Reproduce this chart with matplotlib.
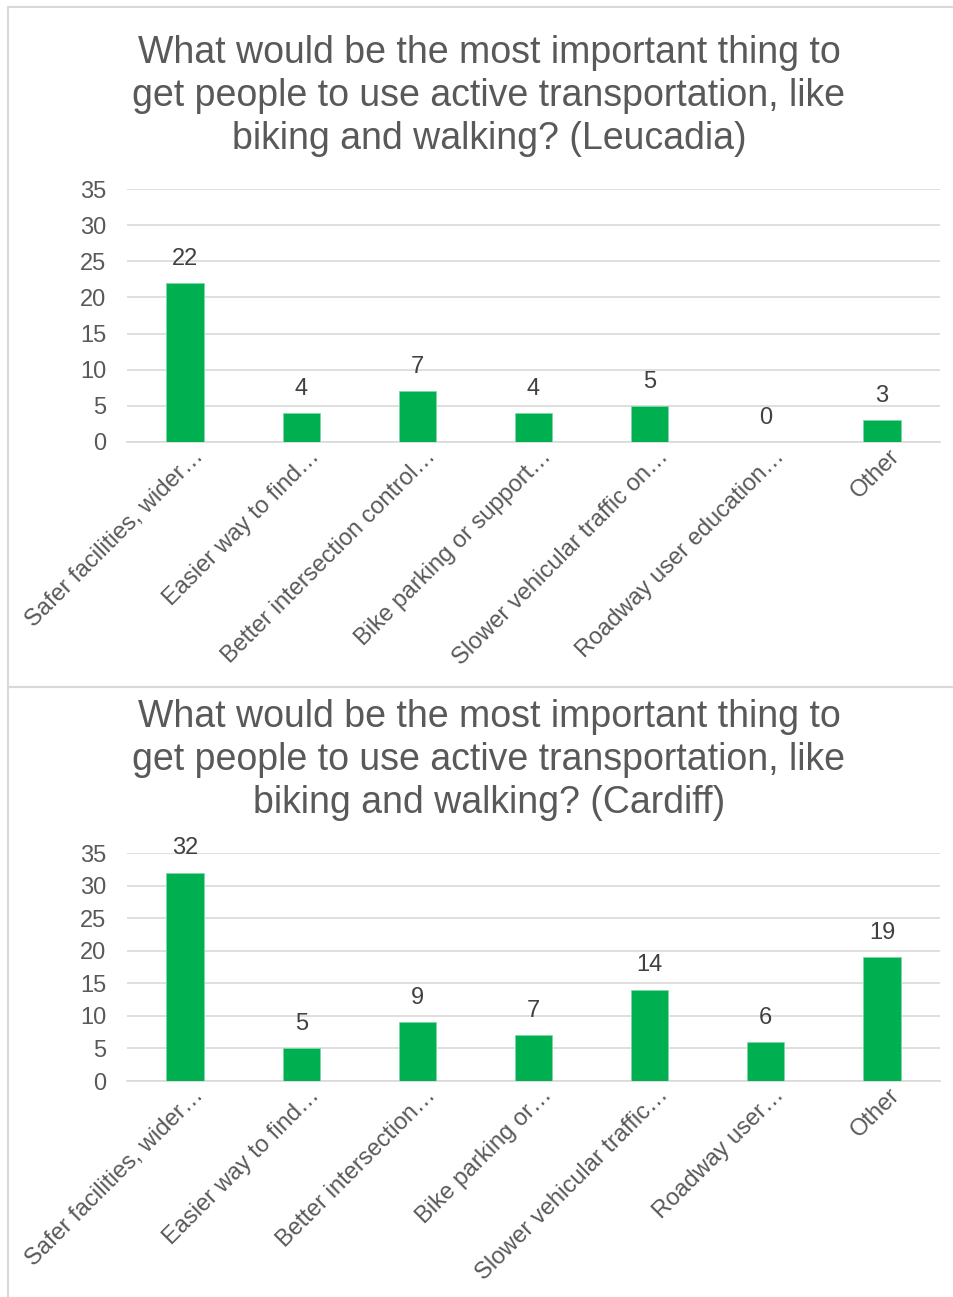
import matplotlib.pyplot as plt
from matplotlib.patches import Rectangle
import matplotlib.transforms as mtransforms

plt.rcParams['font.family'] = ['Liberation Sans', 'DejaVu Sans']

# data
labels_leucadia = ["Safer facilities, wider…", "Easier way to find…",
                   "Better intersection control…", "Bike parking or support…",
                   "Slower vehicular traffic on…", "Roadway user education…", "Other"]
values_leucadia = [22, 4, 7, 4, 5, 0, 3]

labels_cardiff = ["Safer facilities, wider…", "Easier way to find…",
                  "Better intersection…", "Bike parking or…",
                  "Slower vehicular traffic…", "Roadway user…", "Other"]
values_cardiff = [32, 5, 9, 7, 14, 6, 19]

title_base = ("What would be the most important thing to\n"
              "get people to use active transportation, like\n"
              "biking and walking? ")

W, H = 954, 1297
fig = plt.figure(figsize=(W / 100, H / 100), dpi=100)

GREEN = "#00B050"
GRID = "#D9D9D9"
TXT = "#595959"

# panel borders
for (y0, y1) in [(7, 687), (687, 1310)]:
    fig.patches.append(Rectangle((8 / W, 1 - y1 / H), 1.2, (y1 - y0) / H,
                                 transform=fig.transFigure, fill=False,
                                 edgecolor=GRID, linewidth=1.5))


def draw(ax, labels, values, title, title_y):
    x = range(len(values))
    ax.bar(x, values, width=0.32, color=GREEN, edgecolor="#7fd8a8", linewidth=0.6, zorder=3)
    ax.set_xlim(-0.5, len(values) - 0.5)
    ax.set_ylim(0, 35)
    ax.set_yticks(range(0, 36, 5))
    ax.yaxis.grid(True, color=GRID, linewidth=1.2, zorder=0)
    for s in ["top", "right", "left"]:
        ax.spines[s].set_visible(False)
    ax.spines["bottom"].set_color(GRID)
    ax.spines["bottom"].set_linewidth(1.2)
    ax.tick_params(axis="y", length=0, pad=15, labelsize=17, labelcolor=TXT)
    ax.tick_params(axis="x", length=0)
    ax.set_xticks(list(x))
    ax.set_xticklabels([])
    off = mtransforms.offset_copy(ax.transData, fig=fig, x=15, y=-11, units="dots")
    for i, lab in enumerate(labels):
        ax.text(i, 0, lab, transform=off, rotation=45, rotation_mode="anchor",
                ha="right", va="center", fontsize=17, color=TXT)
    for i, v in enumerate(values):
        ax.annotate(str(v), (i, v), xytext=(0, 17.5), textcoords="offset points",
                    ha="center", va="center", fontsize=17, color="#404040")
    fig.text(489 / W, 1 - title_y / H, title, ha="center", va="center",
             fontsize=27, color=TXT, linespacing=1.25)


ax1 = fig.add_axes([127 / W, 1 - 442 / H, 813 / W, 253 / H])
draw(ax1, labels_leucadia, values_leucadia, title_base + "(Leucadia)", 96)

ax2 = fig.add_axes([127 / W, 1 - 1081 / H, 813 / W, 228 / H])
draw(ax2, labels_cardiff, values_cardiff, title_base + "(Cardiff)", 760)

fig.savefig("out.png", dpi=100, facecolor="white")
